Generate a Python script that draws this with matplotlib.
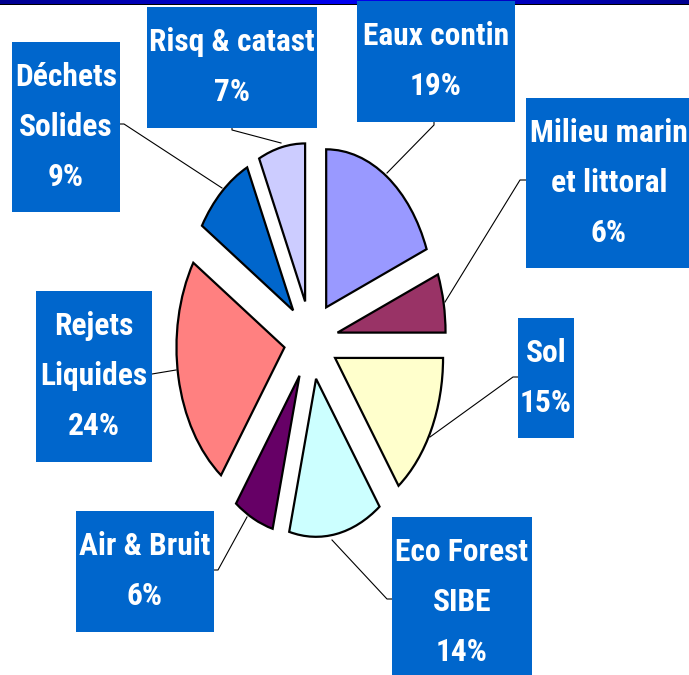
import matplotlib
matplotlib.use('Agg')
import matplotlib.pyplot as plt
from matplotlib.patches import Rectangle
from matplotlib import font_manager
from matplotlib.font_manager import FontProperties
import numpy as np

# ---- data ----
categories = ["Eaux contin", "Milieu marin\net littoral", "Sol", "Eco Forest\nSIBE",
              "Air & Bruit", "Rejets\nLiquides", "Déchets\nSolides", "Risq & catast"]
values = [19, 6, 15, 14, 6, 24, 9, 7]
colors = ["#9999FF", "#993366", "#FFFFCC", "#CCFFFF", "#660066", "#FF8080", "#0066CC", "#CCCCFF"]

# ---- layout (pixels) ----
W, H = 689, 675
cx, cy, rx, ry = 311, 340, 108, 158
boxes = [(357, 1, 515, 122), (526, 98, 692, 268), (518, 318, 574, 438), (392, 517, 532, 675),
         (76, 511, 214, 632), (36, 291, 152, 462), (12, 42, 120, 212), (147, 7, 317, 128)]
leaders = [[(434, 122), (434, 125), (387, 173)],
           [(526, 180), (520, 180), (445, 302)],
           [(518, 377), (513, 377), (430, 437)],
           [(392, 599), (387, 599), (332, 540)],
           [(214, 570), (218, 570), (247, 517)],
           [(152, 374), (176, 370)],
           [(120, 124), (124, 124), (222, 188)],
           [(232, 128), (232, 130), (281, 143)]]


def weight_of(f):
    w = f.weight
    if isinstance(w, str):
        w = font_manager.weight_dict.get(w, 400)
    return w


def stretch_of(f):
    s = f.stretch
    if isinstance(s, str):
        s = font_manager.stretch_dict.get(s, 500)
    return s


def pick_font():
    fl = font_manager.fontManager.ttflist
    narrow_names = ['Liberation Sans Narrow', 'Arial Narrow', 'Roboto Condensed',
                    'Open Sans Condensed', 'Noto Sans Condensed', 'Noto Sans SemiCondensed']
    for name in narrow_names:
        for f in fl:
            if f.name == name and weight_of(f) >= 600 and f.style == 'normal':
                return f.fname
    for name in ['Noto Sans', 'Roboto', 'Open Sans', 'DejaVu Sans']:
        for f in fl:
            if f.name == name and weight_of(f) >= 600 and stretch_of(f) <= 400 and f.style == 'normal':
                return f.fname
    for f in fl:
        if f.name == 'Liberation Sans' and weight_of(f) >= 600 and f.style == 'normal':
            return f.fname
    return None


fpath = pick_font()

fig = plt.figure(figsize=(W / 100, H / 100), dpi=100)
fig.patch.set_facecolor('white')

if fpath:
    base_fp = FontProperties(fname=fpath, size=20)
else:
    base_fp = FontProperties(family='DejaVu Sans', weight='bold', size=20)
renderer = fig.canvas.get_renderer()
probe = fig.text(0, 0, "Eaux contin", fontproperties=base_fp)
wpx = probe.get_window_extent(renderer).width
probe.remove()
fsize = 20 * 146.0 / wpx
fp = base_fp.copy()
fp.set_size(fsize)

ax = fig.add_axes([0, 0, 1, 1])
ax.pie(values, colors=colors, startangle=90, counterclock=False,
       explode=[0.25] * len(values),
       wedgeprops=dict(edgecolor='black', linewidth=1.6))
ax.set_aspect('auto')
ax.set_xlim(-cx / rx, (W - cx) / rx)
ax.set_ylim((cy - H) / ry, cy / ry)
ax.axis('off')

ov = fig.add_axes([0, 0, 1, 1])
ov.axis('off')
ov.patch.set_alpha(0)

# top bar
grad = np.abs(np.linspace(-1, 1, 256))[None, :]
cmap = matplotlib.colors.LinearSegmentedColormap.from_list('b', ['#0000F0', '#000090'])
ov.imshow(grad, extent=(0, W, 3.6, 0), aspect='auto', cmap=cmap, zorder=1)
ov.add_patch(Rectangle((0, 3.6), W, 1.6, facecolor='black', edgecolor='none', zorder=1))
ov.set_xlim(0, W)
ov.set_ylim(H, 0)

for cat, v, (x0, y0, x1, y1), pts in zip(categories, values, boxes, leaders):
    xs, ys = zip(*pts)
    ov.plot(xs, ys, color='black', lw=0.8, zorder=2)
    ov.add_patch(Rectangle((x0, y0), x1 - x0, y1 - y0, facecolor='#0066CC',
                           edgecolor='none', zorder=3))
    lines = cat.split('\n') + [f"{v}%"]
    xc = (x0 + x1) / 2
    for i, ln in enumerate(lines):
        ov.text(xc, y0 + 44 + 50 * i, ln, ha='center', va='baseline', color='white',
                fontproperties=fp, zorder=4)

fig.savefig('out.png', dpi=100)
